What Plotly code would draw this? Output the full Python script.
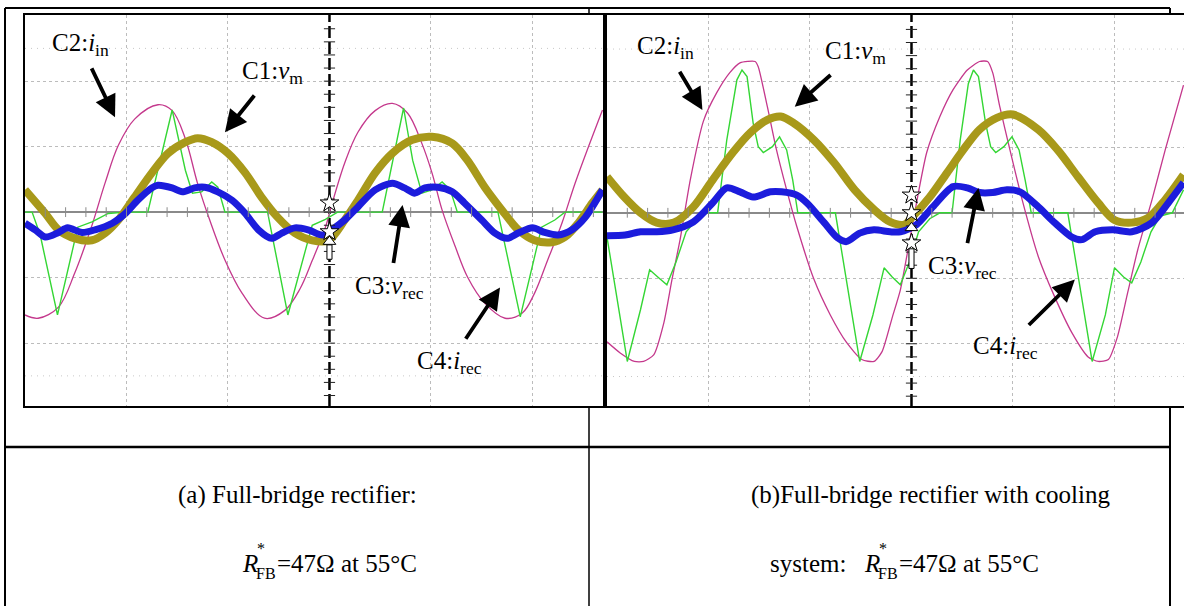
import plotly.graph_objects as go

W, H = 1184, 606

# ---------------- data (time and amplitude in scope divisions) ----------------
# Panel (a): full-bridge rectifier
A_T_IIN = [0, 0.13, 0.33, 0.49, 0.66, 0.79, 0.92, 1.08, 1.31, 1.45, 1.58, 1.70, 1.82, 1.97, 2.14, 2.36, 2.56, 2.71, 2.83, 2.96,
           3.02, 3.15, 3.28, 3.45, 3.62, 3.77, 3.91, 4.01, 4.11, 4.24, 4.36, 4.53, 4.73, 4.90, 5.02, 5.15, 5.29, 5.42, 5.55, 5.69]
A_IIN = [-1.57, -1.62, -1.45, -0.93, -0.20, 0.45, 1.02, 1.42, 1.64, 1.55, 1.12, 0.44, -0.12, -0.73, -1.24, -1.62, -1.50, -1.17, -0.74, -0.23,
         0.10, 0.75, 1.22, 1.55, 1.66, 1.51, 1.05, 0.60, 0.03, -0.53, -0.99, -1.39, -1.62, -1.54, -1.24, -0.73, -0.17, 0.44, 0.99, 1.56]

A_T_IREC = [0, 0.07, 0.15, 0.32, 0.52, 0.66, 0.82, 0.99, 1.21, 1.33, 1.45, 1.58, 1.65, 1.74, 1.84, 1.90, 1.97, 2.39, 2.59, 2.83,
            2.96, 3.08, 3.52, 3.73, 3.82, 3.91, 4.01, 4.11, 4.19, 4.26, 4.66, 4.88, 5.09, 5.22, 5.32, 5.69]
A_IREC = [0, 0, -0.35, -1.57, -0.23, -0.15, -0.02, 0, 0, 0.79, 1.56, 0.64, 0.29, 0.31, 0.46, 0.38, 0, 0, -1.57, -0.20,
          -0.11, 0, 0, 1.59, 0.79, 0.29, 0.34, 0.46, 0.34, 0, 0, -1.60, -0.23, -0.12, 0, 0]

A_T_VM = [0, 0.20, 0.33, 0.49, 0.66, 0.79, 0.92, 1.08, 1.25, 1.41, 1.58, 1.70, 1.84, 2.00, 2.17, 2.33, 2.49, 2.66, 2.83, 2.99,
          3.15, 3.28, 3.45, 3.62, 3.81, 4.01, 4.21, 4.36, 4.53, 4.70, 4.86, 5.02, 5.19, 5.32, 5.45, 5.59, 5.69]
A_VM = [0.34, -0.02, -0.27, -0.40, -0.43, -0.32, -0.12, 0.23, 0.60, 0.90, 1.07, 1.13, 1.07, 0.90, 0.60, 0.23, -0.08, -0.32, -0.43, -0.43,
        -0.12, 0.18, 0.60, 0.90, 1.10, 1.15, 1.05, 0.79, 0.38, 0.03, -0.27, -0.43, -0.46, -0.38, -0.17, 0.14, 0.34]

A_T_VREC = [0, 0.10, 0.20, 0.33, 0.42, 0.56, 0.69, 0.86, 0.99, 1.11, 1.25, 1.31, 1.45, 1.55, 1.67, 1.77, 1.90, 2.04, 2.17, 2.30,
            2.43, 2.53, 2.66, 2.79, 2.93, 3.02, 3.15, 3.28, 3.45, 3.62, 3.74, 3.84, 3.94, 4.07, 4.21, 4.33, 4.50, 4.63, 4.75, 4.86,
            5.00, 5.12, 5.25, 5.39, 5.52, 5.69]
A_VREC = [-0.17, -0.27, -0.38, -0.31, -0.24, -0.31, -0.27, -0.17, -0.02, 0.18, 0.37, 0.41, 0.37, 0.31, 0.37, 0.38, 0.31, 0.18, -0.02, -0.27,
          -0.40, -0.32, -0.24, -0.27, -0.35, -0.27, -0.12, 0.08, 0.34, 0.44, 0.37, 0.29, 0.37, 0.38, 0.31, 0.14, -0.12, -0.32, -0.40, -0.32,
          -0.24, -0.31, -0.35, -0.27, -0.08, 0.34]

# Panel (b): full-bridge rectifier with cooling system
B_T_IIN = [0, 0.13, 0.27, 0.36, 0.46, 0.56, 0.64, 0.72, 0.82, 0.95, 1.08, 1.21, 1.31, 1.46, 1.49, 1.58, 1.67, 1.77, 1.87, 2.04,
           2.20, 2.36, 2.51, 2.63, 2.71, 2.81, 2.89, 2.96, 3.06, 3.15, 3.28, 3.41, 3.55, 3.67, 3.75, 3.80, 3.87, 3.97, 4.09, 4.25,
           4.41, 4.58, 4.74, 4.84, 4.94, 5.03, 5.13, 5.23, 5.37, 5.50, 5.68]
B_IIN = [-1.97, -2.14, -2.27, -2.27, -2.17, -1.68, -1.02, -0.41, 0.50, 1.40, 1.83, 2.14, 2.29, 2.31, 2.23, 1.62, 0.96, 0.35, -0.21, -1.02,
         -1.56, -1.98, -2.24, -2.27, -2.12, -1.60, -1.18, -0.61, 0.24, 0.92, 1.47, 1.88, 2.18, 2.31, 2.31, 2.14, 1.62, 0.96, 0.20, -0.67,
         -1.28, -1.83, -2.20, -2.27, -2.24, -1.89, -1.22, -0.56, 0.20, 0.96, 1.95]

B_T_IREC = [0, 0.20, 0.33, 0.42, 0.50, 0.59, 0.68, 0.78, 0.89, 0.99, 1.09, 1.18, 1.28, 1.33, 1.38, 1.44, 1.49, 1.54, 1.63, 1.70,
            1.77, 1.83, 1.88, 2.25, 2.49, 2.62, 2.73, 2.81, 2.89, 2.98, 3.07, 3.18, 3.28, 3.40, 3.48, 3.56, 3.61, 3.66, 3.73, 3.78,
            3.83, 3.91, 3.99, 4.06, 4.12, 4.18, 4.54, 4.78, 4.91, 5.00, 5.09, 5.17, 5.26, 5.36, 5.45, 5.57, 5.68]
B_IREC = [-0.37, -2.27, -1.48, -0.87, -0.98, -1.10, -0.75, -0.29, -0.09, 0, 0, 1.11, 2.03, 2.18, 2.08, 1.37, 1.01, 0.92, 1.01, 1.16,
          0.96, 0.50, 0, 0, -2.27, -1.56, -0.84, -0.98, -1.10, -0.75, -0.29, -0.09, 0, 0, 1.11, 1.97, 2.18, 2.08, 1.37, 1.01,
          0.92, 1.01, 1.16, 0.96, 0.50, 0, 0, -2.27, -1.56, -0.84, -0.98, -1.07, -0.75, -0.29, -0.05, 0, 0.35]

B_T_VM = [0, 0.17, 0.33, 0.49, 0.66, 0.85, 1.04, 1.24, 1.41, 1.58, 1.71, 1.84, 2.04, 2.24, 2.44, 2.63, 2.79, 2.93, 3.01, 3.18,
          3.35, 3.51, 3.67, 3.84, 4.00, 4.25, 4.44, 4.64, 4.84, 5.00, 5.17, 5.33, 5.50, 5.68]
B_VM = [0.55, 0.24, 0, -0.15, -0.15, 0.09, 0.50, 0.92, 1.22, 1.42, 1.47, 1.37, 1.11, 0.76, 0.35, 0.05, -0.14, -0.18, -0.06, 0.24,
        0.61, 0.96, 1.27, 1.45, 1.50, 1.27, 0.96, 0.55, 0.15, -0.11, -0.15, -0.08, 0.20, 0.58]

B_T_VREC = [0, 0.18, 0.33, 0.49, 0.65, 0.85, 1.04, 1.18, 1.31, 1.44, 1.61, 1.72, 1.87, 1.97, 2.14, 2.27, 2.36, 2.49, 2.63, 2.79,
            2.89, 3.05, 3.21, 3.41, 3.55, 3.67, 3.80, 3.94, 4.07, 4.25, 4.41, 4.58, 4.68, 4.81, 4.98, 5.17, 5.37, 5.53, 5.68]
B_VREC = [-0.35, -0.34, -0.29, -0.29, -0.26, -0.14, 0.15, 0.38, 0.32, 0.24, 0.32, 0.32, 0.27, 0.15, -0.15, -0.38, -0.44, -0.31, -0.26, -0.29,
          -0.29, -0.18, 0.09, 0.40, 0.38, 0.31, 0.31, 0.35, 0.32, 0.09, -0.15, -0.37, -0.41, -0.29, -0.26, -0.29, -0.15, 0.15, 0.46]

TICK_STEPS = [i / 5 for i in range(1, 29)]          # graticule minor ticks (0.2 div)
VTICK_STEPS = [i / 5 for i in range(-14, 15)]

CAPTION_A1 = "(a) Full-bridge rectifier:"
CAPTION_B1 = "(b)Full-bridge rectifier with cooling"

# ---------------- styling ----------------
MAGENTA = "#c4388c"
GREEN = "#34d634"
OLIVE = "#a8991a"
BLUE = "#1c1cdc"
SERIF = "Liberation Serif, Times New Roman, serif"


def px(x):
    return x / W


def py(y):
    return 1 - y / H


fig = go.Figure()


def add_panel(xa, ya, t_iin, iin, t_irec, irec, t_vm, vm, t_vrec, vrec, xmax, smooth_iin):
    common = dict(xaxis=xa, yaxis=ya, mode="lines", showlegend=False, hoverinfo="skip")
    fig.add_trace(go.Scatter(x=t_iin, y=iin, line=dict(color=MAGENTA, width=1.3, shape="spline", smoothing=smooth_iin), **common))
    fig.add_trace(go.Scatter(x=t_irec, y=irec, line=dict(color=GREEN, width=1.4), **common))
    fig.add_trace(go.Scatter(x=t_vm, y=vm, line=dict(color=OLIVE, width=8, shape="spline", smoothing=0.9), **common))
    fig.add_trace(go.Scatter(x=t_vrec, y=vrec, line=dict(color=BLUE, width=7, shape="spline", smoothing=0.8), **common))
    # graticule ticks on the centre axes
    xt = [t for t in TICK_STEPS if t < xmax]
    fig.add_trace(go.Scatter(x=xt, y=[0] * len(xt), xaxis=xa, yaxis=ya, mode="markers", showlegend=False, hoverinfo="skip",
                             marker=dict(symbol="line-ns", size=7, line=dict(color="#8a8a8a", width=1))))
    fig.add_trace(go.Scatter(x=[3] * len(VTICK_STEPS), y=VTICK_STEPS, xaxis=xa, yaxis=ya, mode="markers", showlegend=False,
                             hoverinfo="skip", marker=dict(symbol="line-ew", size=8, line=dict(color="#222222", width=1))))


add_panel("x", "y", A_T_IIN, A_IIN, A_T_IREC, A_IREC, A_T_VM, A_VM, A_T_VREC, A_VREC, 5.69, 1.0)
add_panel("x2", "y2", B_T_IIN, B_IIN, B_T_IREC, B_IREC, B_T_VM, B_VM, B_T_VREC, B_VREC, 5.68, 0.6)

# trigger / reference markers at the centre line
fig.add_trace(go.Scatter(x=[3, 3], y=[0.14, -0.30], xaxis="x", yaxis="y", mode="markers", showlegend=False, hoverinfo="skip",
                         marker=dict(symbol="star", size=14, color="white", line=dict(color="black", width=1))))
fig.add_trace(go.Scatter(x=[3], y=[-0.45], xaxis="x", yaxis="y", mode="markers", showlegend=False, hoverinfo="skip",
                         marker=dict(symbol="triangle-up", size=11, color="white", line=dict(color="black", width=1))))
fig.add_trace(go.Scatter(x=[3, 3, 3], y=[0.27, 0.0, -0.46], xaxis="x2", yaxis="y2", mode="markers", showlegend=False,
                         hoverinfo="skip", marker=dict(symbol="star", size=14, color="white", line=dict(color="black", width=1))))
fig.add_trace(go.Scatter(x=[3], y=[-0.23], xaxis="x2", yaxis="y2", mode="markers", showlegend=False, hoverinfo="skip",
                         marker=dict(symbol="triangle-up", size=11, color="white", line=dict(color="black", width=1))))

axis_common = dict(showticklabels=False, ticks="", showgrid=True, gridcolor="#bcbcbc", griddash="dot", gridwidth=1,
                   showline=True, linecolor="black", linewidth=2, fixedrange=True)

fig.update_layout(
    width=W, height=H, margin=dict(l=0, r=0, t=0, b=0),
    paper_bgcolor="white", plot_bgcolor="white", showlegend=False,
    xaxis=dict(domain=[px(25), px(603)], range=[0, 5.695], tickvals=[1, 2, 4, 5], zeroline=False, mirror=True, **axis_common),
    yaxis=dict(domain=[py(406), py(15)], range=[-2.96, 3.01], tickvals=[-2, -1, 1, 2], zeroline=True,
               zerolinecolor="#8a8a8a", zerolinewidth=1.5, mirror=True, **axis_common),
    xaxis2=dict(domain=[px(607), 1.0], range=[0, 5.685], tickvals=[1, 2, 4, 5], zeroline=False, mirror=True,
                anchor="y2", **axis_common),
    yaxis2=dict(domain=[py(406), py(15)], range=[-2.95, 3.02], tickvals=[-2, -1, 1, 2], zeroline=True, anchor="x2",
                zerolinecolor="#8a8a8a", zerolinewidth=1.5, mirror=False, **axis_common),
)

shapes = []


def pline(x0, y0, x1, y1, w=2):
    shapes.append(dict(type="line", xref="paper", yref="paper", x0=px(x0), y0=py(y0), x1=px(x1), y1=py(y1),
                       line=dict(color="black", width=w), layer="below"))


# table rules (kept outside the scope screenshots)
pline(5, 8, 1170, 8, 2)
pline(5, 8, 5, 606, 2)
pline(589, 8, 589, 15, 1.5)
pline(589, 406, 589, 606, 1.5)
pline(1170, 8, 1170, 15, 2)
pline(1170, 406, 1170, 606, 2)
pline(5, 447, 1170, 447, 2.5)

for xa, ya in (("x", "y"), ("x2", "y2")):
    shapes.append(dict(type="line", xref=xa, yref=f"{ya} domain", x0=3, x1=3, y0=0, y1=1,
                       line=dict(color="black", width=2.5, dash="12px,4px"), layer="below"))
    for yy in (2.5, -2.5):
        shapes.append(dict(type="line", xref=f"{xa} domain", yref=ya, x0=0, x1=1, y0=yy, y1=yy,
                           line=dict(color="#c8c8c8", width=1, dash="1px,5px"), layer="below"))

shapes.append(dict(type="rect", xref="x", yref="y", x0=2.975, x1=3.025, y0=-0.72, y1=-0.5,
                   line=dict(color="black", width=1), fillcolor="white"))
shapes.append(dict(type="rect", xref="x2", yref="y2", x0=2.975, x1=3.025, y0=-0.85, y1=-0.55,
                   line=dict(color="black", width=1), fillcolor="white"))
fig.update_layout(shapes=shapes)

ann = []
LBL = dict(size=25, color="black", family=SERIF)


def callout(xa, ya, hx, hy, dx, dy, text):
    # label centred at (head + (dx, dy) px); arrow drawn from label towards head
    ann.append(dict(xref=xa, yref=ya, x=hx, y=hy, ax=dx, ay=dy, text=text, showarrow=True, font=LBL,
                    arrowhead=2, arrowsize=1.15, arrowwidth=3.8, arrowcolor="black", standoff=0, startstandoff=8))


# panel (a)
callout("x", "y", 0.887, 1.45, -35, -73, "C2:<i>i</i><sub>in</sub>")
callout("x", "y", 1.97, 1.22, 48, -60, "C1:<i>v</i><sub>m</sub>")
callout("x", "y", 3.72, 0.11, -13, 83, "C3:<i>v</i><sub>rec</sub>")
callout("x", "y", 4.68, -1.15, -50, 75, "C4:<i>i</i><sub>rec</sub>")
# panel (b)
callout("x2", "y2", 0.94, 1.57, -37, -62, "C2:<i>i</i><sub>in</sub>")
callout("x2", "y2", 1.85, 1.62, 61, -54, "C1:<i>v</i><sub>m</sub>")
callout("x2", "y2", 3.66, 0.38, -16, 80, "C3:<i>v</i><sub>rec</sub>")
callout("x2", "y2", 4.61, -1.02, -69, 68, "C4:<i>i</i><sub>rec</sub>")

CAP = dict(size=25, color="black", family=SERIF)
SMALL = dict(size=16, color="black", family=SERIF)


def ptext(x, y, text, font, xanchor="center"):
    ann.append(dict(xref="paper", yref="paper", x=px(x), y=py(y), text=text, showarrow=False, font=font,
                    xanchor=xanchor, yanchor="middle"))


ptext(297, 495, CAPTION_A1, CAP)
ptext(930, 495, CAPTION_B1, CAP)


def r_line(x_r, y):
    # R*_FB with stacked superscript/subscript, then "=47Ω at 55°C"
    ptext(x_r, y, "<i>R</i>", CAP, "left")
    ptext(x_r + 15, y - 15, "*", SMALL, "left")
    ptext(x_r + 14, y + 10, "FB", SMALL, "left")
    ptext(x_r + 35, y, "=47Ω at 55°C", CAP, "left")


r_line(240, 563)
ptext(848, 563, "system:", CAP, "right")
r_line(862, 563)

fig.update_layout(annotations=ann)

fig.write_html("out.html", config={"displayModeBar": False},
               post_script="document.body.style.margin='0';document.body.style.overflow='hidden';")
